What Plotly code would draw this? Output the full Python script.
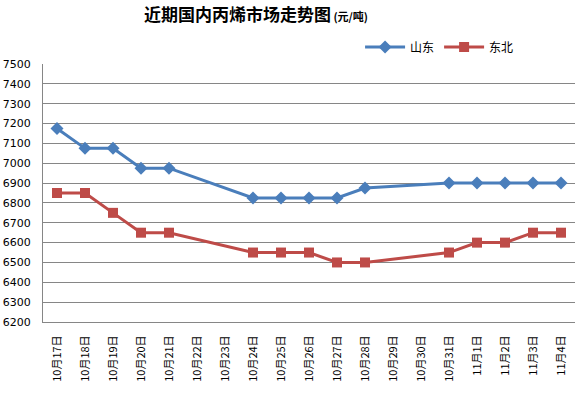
import plotly.graph_objects as go

dates = ["10月17日", "10月18日", "10月19日", "10月20日", "10月21日", "10月22日", "10月23日",
         "10月24日", "10月25日", "10月26日", "10月27日", "10月28日", "10月29日", "10月30日",
         "10月31日", "11月1日", "11月2日", "11月3日", "11月4日"]
shandong = [7175, 7075, 7075, 6975, 6975, None, None, 6825, 6825, 6825, 6825, 6875, None, None,
            6900, 6900, 6900, 6900, 6900]
dongbei = [6850, 6850, 6750, 6650, 6650, None, None, 6550, 6550, 6550, 6500, 6500, None, None,
           6550, 6600, 6600, 6650, 6650]
y_ticks = list(range(6200, 7501, 100))

fig = go.Figure()
fig.add_trace(go.Scatter(x=dates, y=shandong, name="山东", mode="lines+markers", connectgaps=True,
                         line=dict(color="#4a7ebb", width=3),
                         marker=dict(symbol="diamond", size=10, color="#4a7ebb")))
fig.add_trace(go.Scatter(x=dates, y=dongbei, name="东北", mode="lines+markers", connectgaps=True,
                         line=dict(color="#be4b48", width=3),
                         marker=dict(symbol="square", size=10, color="#be4b48")))

fig.update_layout(
    width=587, height=393,
    margin=dict(l=43, r=12, t=64, b=71),
    paper_bgcolor="white", plot_bgcolor="white",
    font=dict(family="Noto Sans CJK SC, sans-serif", color="black"),
    title=dict(text="<b>近期国内丙烯市场走势图</b><b><span style='font-size:11px'> (元/吨)</span></b>",
               x=0.436, xanchor="center", y=0.962, yanchor="middle",
               font=dict(size=17, family="Noto Sans CJK SC, serif")),
    showlegend=True,
    legend=dict(orientation="h", x=0.596, y=1.066, xanchor="left", yanchor="middle",
                font=dict(size=12), bgcolor="rgba(0,0,0,0)", itemwidth=40, tracegroupgap=0),
    xaxis=dict(type="category", categoryorder="array", categoryarray=dates,
               range=[-0.5, len(dates) - 0.5], showgrid=False, showline=True,
               linecolor="#868686", linewidth=1, tickangle=-90, ticks="", automargin=False,
               ticklabelstandoff=8,
               tickfont=dict(size=11, family="Noto Sans CJK SC"), fixedrange=True),
    yaxis=dict(range=[6200, 7500], tickvals=y_ticks, showgrid=True, gridcolor="#868686",
               gridwidth=1, showline=True, linecolor="#868686", linewidth=1, ticks="",
               automargin=False, ticklabelstandoff=9,
               tickfont=dict(size=11, family="DejaVu Sans"), zeroline=False),
)
fig.write_html("out.html", config={"displayModeBar": False},
               post_script="document.body.style.margin='0';")
